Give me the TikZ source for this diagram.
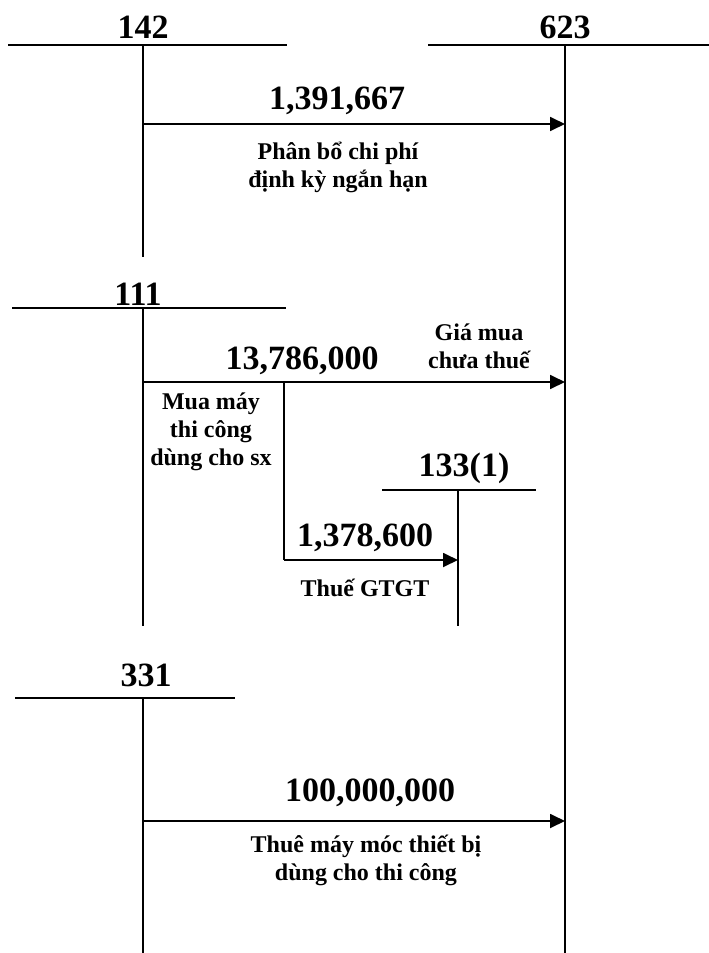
\documentclass[tikz,border=0pt]{standalone}
\usepackage{fontspec}
\setmainfont{Liberation Serif}
\usetikzlibrary{arrows.meta}
\begin{document}
\begin{tikzpicture}[x=1pt,y=-1pt,
  tline/.style={line width=1.8pt,black},
  arr/.style={line width=1.8pt,black,-{Triangle[length=15pt,width=14pt]}},
  acct/.style={font=\bfseries\fontsize{34}{40}\selectfont,inner sep=0pt},
  amt/.style={font=\bfseries\fontsize{34}{40}\selectfont,inner sep=0pt},
  note/.style={font=\bfseries\fontsize{24}{28}\selectfont,inner sep=0pt,align=center}]
\useasboundingbox (0,0) rectangle (709,953);
\fill[white] (0,0) rectangle (709,953);

% account 142
\coordinate (h142L) at (8,45); \coordinate (h142R) at (287,45);
\coordinate (v142T) at (143,45); \coordinate (v142B) at (143,257);
\draw[tline] (h142L) -- (h142R);
\draw[tline] (v142T) -- (v142B);
\node[acct] (n142) at (143,27) {142};

% account 623
\coordinate (h623L) at (428,45); \coordinate (h623R) at (709,45);
\coordinate (v623T) at (565,45); \coordinate (v623B) at (565,953);
\draw[tline] (h623L) -- (h623R);
\draw[tline] (v623T) -- (v623B);
\node[acct] (n623) at (565,27) {623};

% arrow 142 -> 623
\coordinate (s1) at (143,124); \coordinate (e1) at (565,124);
\draw[arr] (s1) -- (e1);
\node[amt] (m1) at (337,101) {1,391,667};
\node[note] (t1) at (338,167) {Phân bổ chi phí\\định kỳ ngắn hạn};

% account 111
\coordinate (h111L) at (12,308); \coordinate (h111R) at (286,308);
\coordinate (v111T) at (143,308); \coordinate (v111B) at (143,626);
\draw[tline] (h111L) -- (h111R);
\draw[tline] (v111T) -- (v111B);
\node[acct] (n111) at (138,294) {111};

% arrow 111 -> 623
\coordinate (s2) at (143,382); \coordinate (e2) at (565,382);
\draw[arr] (s2) -- (e2);
\node[amt] (m2) at (302,361) {13,786,000};
\node[note] (t2) at (479,346) {Giá mua\\chưa thuế};
\node[note] (t3) at (211,432) {Mua máy\\thi công\\dùng cho sx};

% branch to 133(1)
\coordinate (b1) at (284,382); \coordinate (b2) at (284,560);
\coordinate (e3) at (458,560);
\draw[tline] (b1) -- (b2);
\draw[arr] (b2) -- (e3);
\node[amt] (m3) at (365,538) {1,378,600};
\node[note] (t4) at (365,588) {Thuế GTGT};

% account 133(1)
\coordinate (h133L) at (382,490); \coordinate (h133R) at (536,490);
\coordinate (v133T) at (458,490); \coordinate (v133B) at (458,626);
\draw[tline] (h133L) -- (h133R);
\draw[tline] (v133T) -- (v133B);
\node[acct] (n133) at (464,468) {133(1)};

% account 331
\coordinate (h331L) at (15,698); \coordinate (h331R) at (235,698);
\coordinate (v331T) at (143,698); \coordinate (v331B) at (143,953);
\draw[tline] (h331L) -- (h331R);
\draw[tline] (v331T) -- (v331B);
\node[acct] (n331) at (146,675) {331};

% arrow 331 -> 623
\coordinate (s4) at (143,821); \coordinate (e4) at (565,821);
\draw[arr] (s4) -- (e4);
\node[amt] (m4) at (370,793) {100,000,000};
\node[note] (t5) at (366,860) {Thuê máy móc thiết bị\\dùng cho thi công};
\end{tikzpicture}
\end{document}
